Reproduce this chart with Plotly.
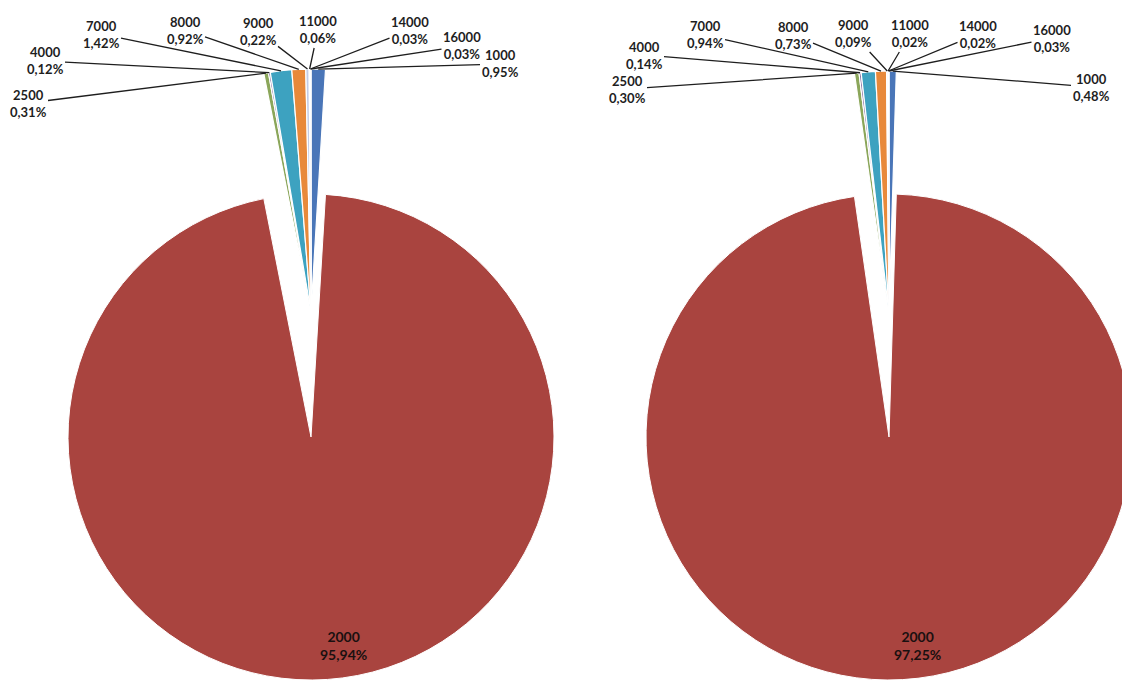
import math

import plotly.graph_objects as go

# data
categories = ["1000", "2000", "2500", "4000", "7000", "8000", "9000", "11000", "14000", "16000"]
share_left = [0.95, 95.94, 0.31, 0.12, 1.42, 0.92, 0.22, 0.06, 0.03, 0.03]
share_right = [0.48, 97.25, 0.30, 0.14, 0.94, 0.73, 0.09, 0.02, 0.02, 0.03]

colors = [
    "#4a76b8", "#a9443f", "#8ba65a", "#7f679c", "#3da2c0",
    "#e8893a", "#c3cce6", "#8a4f4d", "#71884a", "#5e4c7a",
]

W, H = 1130, 683
OFF = 8  # page body margin, figure is drawn 8px in
BIG = "2000"

# pixel layout (screen coords) of each pie: circle centre, radius, centre of
# the pulled-out small slices, and where each label sits
pies = [
    dict(
        values=share_left, cx=311, cy=437, r=243, cy_pull=312,
        labels={
            "1000": (500, 64), "2500": (28, 103), "4000": (45, 61),
            "7000": (101, 34), "8000": (185, 30), "9000": (258, 31),
            "11000": (318, 30), "14000": (410, 30), "16000": (462, 46),
            "2000": (343, 645),
        },
    ),
    dict(
        values=share_right, cx=889, cy=437, r=243, cy_pull=314,
        labels={
            "1000": (1091, 87), "2500": (627, 89), "4000": (644, 55),
            "7000": (705, 35), "8000": (793, 35), "9000": (853, 34),
            "11000": (910, 34), "14000": (978, 34), "16000": (1052, 38),
            "2000": (917, 645),
        },
    ),
]


def to_paper(x, y):
    return (x - OFF) / W, 1 - (y - OFF) / H


def domain(cx, cy, r):
    x0, y1 = to_paper(cx - r, cy - r)
    x1, y0 = to_paper(cx + r, cy + r)
    x0, x1 = max(0, x0), min(1, x1)
    y0, y1 = max(0, y0), min(1, y1)
    # actual geometry plotly will use (screen px)
    rr = min((x1 - x0) * W, (y1 - y0) * H) / 2
    return dict(x=[x0, x1], y=[y0, y1]), ((x0 + x1) / 2 * W + OFF, (1 - (y0 + y1) / 2) * H + OFF, rr)


def pct(v):
    return f"{v:.2f}".replace(".", ",") + "%"


fig = go.Figure()
annotations = []
label_font = dict(family="Lato", size=13, color="#1e1e1e", weight="bold")
big_font = dict(family="Lato", size=14, color="#1a1010", weight="bold")

for pie in pies:
    vals = pie["values"]
    big = [c == BIG for c in categories]

    dom_a, (cx, cy, r) = domain(pie["cx"], pie["cy"], pie["r"])
    dom_b, (cxb, cyb, rb) = domain(pie["cx"], pie["cy_pull"], pie["r"])

    # main slice
    fig.add_trace(go.Pie(
        labels=categories, values=vals, sort=False, direction="clockwise", rotation=0,
        domain=dom_a, textinfo="none", hoverinfo="label+percent",
        marker=dict(
            colors=[col if b else "rgba(0,0,0,0)" for col, b in zip(colors, big)],
            line=dict(color="white", width=[1 if b else 0 for b in big]),
        ),
    ))
    # small slices, pulled out
    fig.add_trace(go.Pie(
        labels=categories, values=vals, sort=False, direction="clockwise", rotation=0,
        domain=dom_b, textinfo="none", hoverinfo="label+percent",
        marker=dict(
            colors=["rgba(0,0,0,0)" if b else col for col, b in zip(colors, big)],
            line=dict(color="white", width=[0 if b else 1.2 for b in big]),
        ),
    ))

    total = sum(vals)
    cum = 0
    for cat, v in zip(categories, vals):
        lx, ly = pie["labels"][cat]
        text = f"{cat}<br>{pct(v)}"
        if cat == BIG:
            px_, py_ = to_paper(lx, ly)
            annotations.append(dict(
                x=px_, y=py_, xref="paper", yref="paper",
                xanchor="center", yanchor="middle",
                text=text, showarrow=False, font=big_font,
            ))
        else:
            th = 2 * math.pi * (cum + v / 2) / total
            tx = cxb + rb * math.sin(th)
            ty = cyb - rb * math.cos(th)
            px_, py_ = to_paper(tx, ty)
            annotations.append(dict(
                x=px_, y=py_, xref="paper", yref="paper",
                ax=lx - tx, ay=ly - ty, text=text, showarrow=True,
                arrowhead=0, arrowwidth=1.3, arrowcolor="#1e1e1e", standoff=0,
                font=label_font,
            ))
        cum += v

fig.update_layout(
    width=W,
    height=H,
    margin=dict(l=0, r=0, t=0, b=0),
    showlegend=False,
    paper_bgcolor="white",
    plot_bgcolor="white",
    annotations=annotations,
)

fig.write_html("out.html")
